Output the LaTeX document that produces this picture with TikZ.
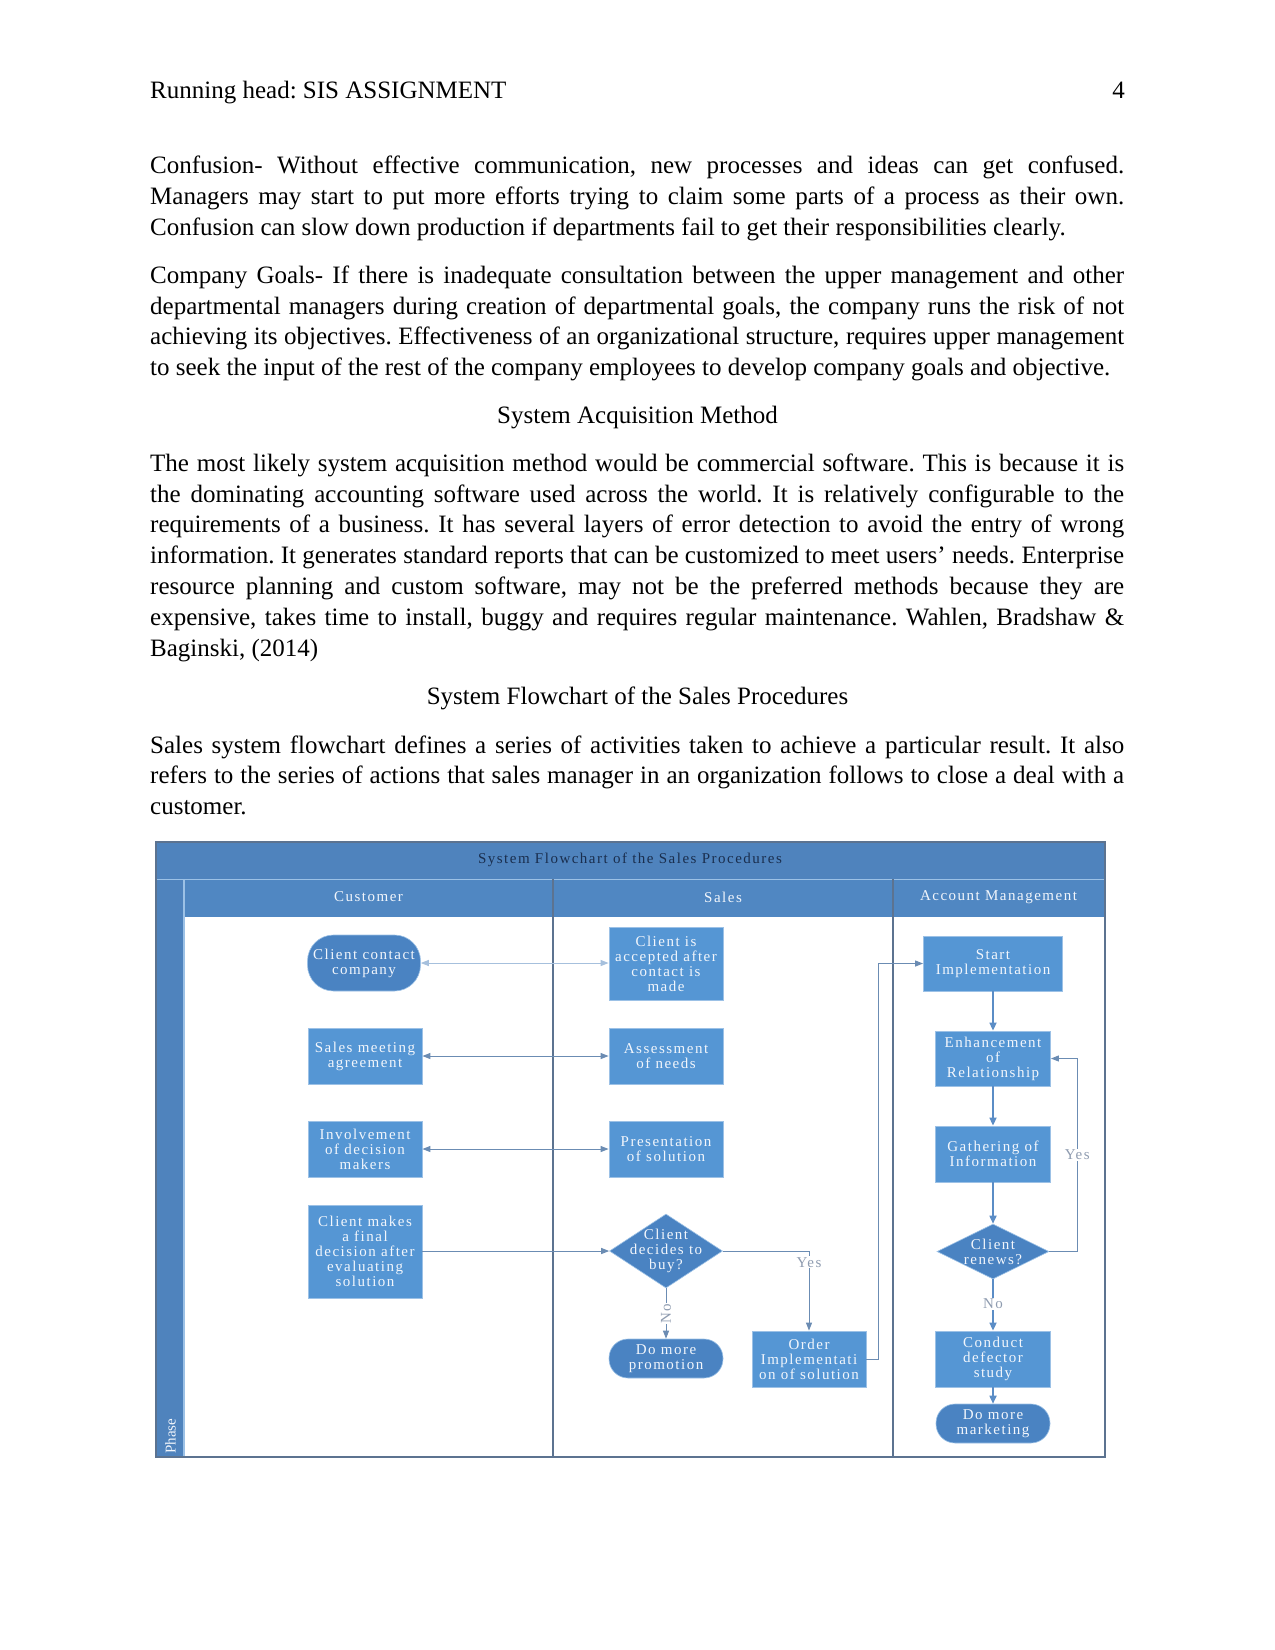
\documentclass[tikz,border=0pt]{standalone}
\usepackage{fontspec}
\setmainfont{Liberation Serif}
\newfontfamily\fcfont[LetterSpace=10]{Liberation Serif}
\usetikzlibrary{shapes.geometric,arrows.meta}
\frenchspacing
\definecolor{bandc}{HTML}{4F83BD}
\definecolor{hdrc}{HTML}{5087C2}
\definecolor{boxc}{HTML}{5596D4}
\definecolor{boxedge}{HTML}{9CC1E6}
\definecolor{termc}{HTML}{4A83C2}
\definecolor{framec}{HTML}{5C7390}
\definecolor{linec}{HTML}{6B8CB3}
\definecolor{palelinec}{HTML}{A6C0DD}
\definecolor{vlinec}{HTML}{5B8DC6}
\definecolor{lighttxt}{HTML}{F2F6FC}
\definecolor{navy}{HTML}{1A2E4E}
\definecolor{lblgray}{HTML}{8F9CB0}
\newcommand{\myjline}[2]{\node[bodytext] at (150,#1) {\hbox to 974pt{#2}};}
\newcommand{\myline}[2]{\node[bodytext] at (150,#1) {#2};}
\begin{document}
\begin{tikzpicture}[x=1pt,y=-1pt,
  bodytext/.style={font=\fontsize{25}{30}\selectfont, inner sep=0pt, anchor=base west},
  fctext/.style={text=lighttxt, font=\fcfont\fontsize{15}{15}\selectfont, align=center, inner sep=1pt},
  proc/.style={fctext, rectangle, fill=boxc, draw=boxedge, line width=0.8pt},
  term/.style={fctext, rectangle, rounded corners=19pt, fill=termc, draw=boxedge, line width=0.6pt},
  decision/.style={diamond, fill=termc, draw=boxedge, line width=0.6pt, inner sep=0pt},
  hdrtext/.style={text=lighttxt, font=\fcfont\fontsize{15}{16}\selectfont, inner sep=0pt},
  conn/.style={draw=linec, line width=1pt, -{Triangle[length=8pt,width=6pt]}},
  biconn/.style={draw=linec, line width=1pt, {Triangle[length=8pt,width=6pt]}-{Triangle[length=8pt,width=6pt]}},
  vconn/.style={draw=vlinec, line width=1.6pt, -{Triangle[length=8pt,width=7pt]}},
  lbl/.style={text=lblgray, font=\fcfont\fontsize{15}{15}\selectfont, fill=white, inner sep=1pt}
]
\useasboundingbox (0,0) rectangle (1275,1650);
\fill[white] (0,0) rectangle (1275,1650);

% ---------- page text ----------
\node[bodytext] (rh) at (150,98.5) {Running head: SIS ASSIGNMENT};
\node[bodytext, anchor=base east] (pg) at (1125,98.5) {4};

\myjline{173.3}{Confusion- Without effective communication, new processes and ideas can get confused.}
\myjline{204.3}{Managers may start to put more efforts trying to claim some parts of a process as their own.}
\myline{235}{Confusion can slow down production if departments fail to get their responsibilities clearly.}

\myjline{283.3}{Company Goals- If there is inadequate consultation between the upper management and other}
\myjline{314}{departmental managers during creation of departmental goals, the company runs the risk of not}
\myjline{344.3}{achieving its objectives. Effectiveness of an organizational structure, requires upper management}
\myline{375}{to seek the input of the rest of the company employees to develop company goals and objective.}

\node[bodytext, anchor=base] (h1) at (637.5,423.3) {System Acquisition Method};

\myjline{471.7}{The most likely system acquisition method would be commercial software. This is because it is}
\myjline{502.3}{the dominating accounting software used across the world. It is relatively configurable to the}
\myjline{532.7}{requirements of a business. It has several layers of error detection to avoid the entry of wrong}
\myjline{563.3}{information. It generates standard reports that can be customized to meet users’ needs. Enterprise}
\myjline{594}{resource planning and custom software, may not be the preferred methods because they are}
\myjline{625}{expensive, takes time to install, buggy and requires regular maintenance. Wahlen, Bradshaw \&}
\myline{656}{Baginski, (2014)}

\node[bodytext, anchor=base] (h2) at (637.5,704.5) {System Flowchart of the Sales Procedures};

\myjline{753.3}{Sales system flowchart defines a series of activities taken to achieve a particular result. It also}
\myjline{783.6}{refers to the series of actions that sales manager in an organization follows to close a deal with a}
\myline{814}{customer.}

% ---------- flowchart frame ----------
\fill[bandc] (156,842) rectangle (1105,879);
\fill[bandc] (156,879) rectangle (184,1457);
\fill[hdrc] (184,879) rectangle (1105,917);
\draw[boxedge, line width=1pt] (156,879) -- (1105,879);
\draw[boxedge, line width=1.2pt] (184,879) -- (184,1457);
\draw[framec, line width=1.3pt] (553,879) -- (553,1457);
\draw[framec, line width=1.3pt] (893,879) -- (893,1457);
\draw[framec, line width=1.3pt] (156,842) rectangle (1105,1457);

\node[text=navy, font=\fcfont\fontsize{15}{15}\selectfont, inner sep=0pt] (title) at (630,860) {System Flowchart of the Sales Procedures};
\node[hdrtext] (hcust) at (368.5,897) {Customer};
\node[hdrtext] (hsales) at (723,897) {Sales};
\node[hdrtext] (ham) at (998.5,897) {Account Management};
\node[text=lighttxt, font=\fontsize{15}{15}\selectfont, inner sep=0pt, rotate=90, anchor=west] (phase) at (170.5,1454) {Phase};

% ---------- nodes ----------
\node[term, minimum width=113pt, minimum height=56pt, rounded corners=26pt] (cc) at (364,963) {Client contact\\company};
\node[proc, minimum width=114pt, minimum height=56pt] (sm) at (365,1056) {Sales meeting\\agreement};
\node[proc, minimum width=114pt, minimum height=56pt] (inv) at (365,1149) {Involvement\\of decision\\makers};
\node[proc, minimum width=114pt, minimum height=93pt] (fin) at (365,1251.5) {Client makes\\a final\\decision after\\evaluating\\solution};

\node[proc, minimum width=114pt, minimum height=73pt] (acc) at (666,963.5) {Client is\\accepted after\\contact is\\made};
\node[proc, minimum width=114pt, minimum height=56pt] (ass) at (666,1056) {Assessment\\of needs};
\node[proc, minimum width=114pt, minimum height=56pt] (pres) at (666,1149) {Presentation\\of solution};
\node[decision, minimum width=113pt, minimum height=74pt] (buy) at (666,1251) {};
\node[fctext] (buyt) at (666,1251) {Client\\decides to\\buy?};
\node[term, minimum width=114pt, minimum height=39pt] (prom) at (666,1358.5) {Do more\\promotion};
\node[proc, minimum width=114pt, minimum height=56pt] (ord) at (809,1359) {Order\\Implementati\\on of solution};

\node[proc, minimum width=139pt, minimum height=55pt] (start) at (993,963.5) {Start\\Implementation};
\node[proc, minimum width=115pt, minimum height=55pt] (enh) at (993,1058.5) {Enhancement\\of\\Relationship};
\node[proc, minimum width=115pt, minimum height=56pt] (gath) at (993,1154) {Gathering of\\Information};
\node[decision, minimum width=112pt, minimum height=55pt] (ren) at (993,1251.5) {};
\node[fctext] (rent) at (993,1251.5) {Client\\renews?};
\node[proc, minimum width=115pt, minimum height=56pt] (def) at (993,1359) {Conduct\\defector\\study};
\node[term, minimum width=114pt, minimum height=39pt] (mkt) at (993,1423.5) {Do more\\marketing};

% ---------- connectors ----------
\draw[biconn, draw=palelinec] (cc.east) -- (cc.east -| acc.west);
\draw[biconn] (sm.east) -- (ass.west);
\draw[biconn] (inv.east) -- (pres.west);
\draw[conn] (fin.east |- buy.west) -- (buy.west);
\draw[conn] (buy.east) -| node[lbl, pos=0.57] {Yes} (ord.north);
\draw[conn] (buy.south) -- node[lbl, rotate=90, pos=0.5] {No} (prom.north);
\draw[conn] (ord.east) -- ++(12,0) |- (start.west);
\draw[vconn] (start.south) -- (enh.north);
\draw[vconn] (enh.south) -- (gath.north);
\draw[vconn] (gath.south) -- (ren.north);
\draw[conn] (ren.east) -- ++(28,0) |- node[lbl, pos=0.25] {Yes} (enh.east);
\draw[vconn] (ren.south) -- node[lbl, pos=0.48] {No} (def.north);
\draw[vconn] (def.south) -- (mkt.north);
\end{tikzpicture}
\end{document}
